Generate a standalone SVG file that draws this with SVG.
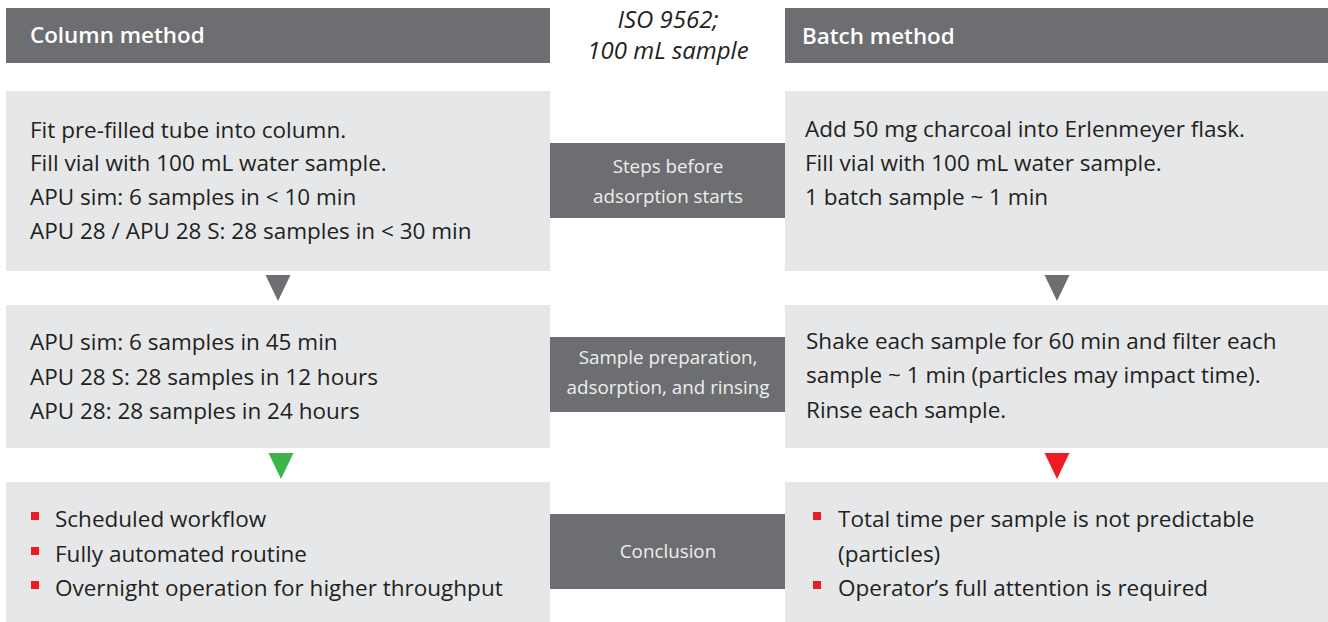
<svg xmlns="http://www.w3.org/2000/svg" width="1328" height="622" viewBox="0 0 1328 622">
<style>
.hdr{fill:#6d6e71}
.box{fill:#e6e7e9}
.lbl{fill:#6d6e71}
.ht{font-family:"Open Sans","Liberation Sans",sans-serif;font-size:22.4px;font-weight:600;fill:#ffffff}
.t{font-family:"Open Sans","Liberation Sans",sans-serif;font-size:22.5px;fill:#231f20}
.lt{font-family:"Open Sans","Liberation Sans",sans-serif;font-size:18.8px;fill:#eeeeee;text-anchor:middle}
.iso{font-family:"Open Sans","Liberation Sans",sans-serif;font-size:24px;font-style:italic;fill:#231f20;text-anchor:middle}
.bul{fill:#ed1c24}
</style>
<rect width="1328" height="622" fill="#ffffff"/>
<g id="header-column">
<rect class="hdr" x="6" y="8" width="544" height="55"/>
<text class="ht" x="30" y="43">Column method</text>
</g>
<g id="header-iso">
<text class="iso" x="668" y="28">ISO 9562;</text>
<text class="iso" x="668" y="59">100 mL sample</text>
</g>
<g id="header-batch">
<rect class="hdr" x="785" y="8" width="543" height="55"/>
<text class="ht" x="802" y="44">Batch method</text>
</g>
<g id="column-step1">
<rect class="box" x="6" y="91" width="544" height="180"/>
<text class="t" x="30" y="138">Fit pre-filled tube into column.</text>
<text class="t" x="30" y="171">Fill vial with 100 mL water sample.</text>
<text class="t" x="30" y="205">APU sim: 6 samples in &lt; 10 min</text>
<text class="t" x="30" y="239">APU 28 / APU 28 S: 28 samples in &lt; 30 min</text>
</g>
<g id="label-step1">
<rect class="lbl" x="550" y="143" width="235" height="75"/>
<text class="lt" x="668" y="173">Steps before</text>
<text class="lt" x="668" y="203">adsorption starts</text>
</g>
<g id="batch-step1">
<rect class="box" x="785" y="91" width="543" height="180"/>
<text class="t" x="805" y="137">Add 50 mg charcoal into Erlenmeyer flask.</text>
<text class="t" x="805" y="171">Fill vial with 100 mL water sample.</text>
<text class="t" x="805" y="205">1 batch sample ~ 1 min</text>
</g>
<g id="column-step2">
<rect class="box" x="6" y="305" width="544" height="143"/>
<text class="t" x="30" y="350">APU sim: 6 samples in 45 min</text>
<text class="t" x="30" y="385">APU 28 S: 28 samples in 12 hours</text>
<text class="t" x="30" y="419">APU 28: 28 samples in 24 hours</text>
</g>
<g id="label-step2">
<rect class="lbl" x="550" y="337" width="235" height="75"/>
<text class="lt" x="668" y="364">Sample preparation,</text>
<text class="lt" x="668" y="394">adsorption, and rinsing</text>
</g>
<g id="batch-step2">
<rect class="box" x="785" y="305" width="543" height="143"/>
<text class="t" x="806" y="349">Shake each sample for 60 min and filter each</text>
<text class="t" x="806" y="383">sample ~ 1 min (particles may impact time).</text>
<text class="t" x="806" y="418">Rinse each sample.</text>
</g>
<g id="column-conclusion">
<rect class="box" x="6" y="482" width="544" height="140"/>
<rect class="bul" x="31" y="512" width="8" height="8"/>
<text class="t" x="55" y="527">Scheduled workflow</text>
<rect class="bul" x="31" y="547" width="8" height="8"/>
<text class="t" x="55" y="562">Fully automated routine</text>
<rect class="bul" x="31" y="581" width="8" height="8"/>
<text class="t" x="55" y="596">Overnight operation for higher throughput</text>
</g>
<g id="label-conclusion">
<rect class="lbl" x="550" y="514" width="235" height="75"/>
<text class="lt" x="668" y="558">Conclusion</text>
</g>
<g id="batch-conclusion">
<rect class="box" x="785" y="482" width="543" height="140"/>
<rect class="bul" x="813" y="512" width="8" height="8"/>
<text class="t" x="838" y="527">Total time per sample is not predictable</text>
<text class="t" x="838" y="562">(particles)</text>
<rect class="bul" x="813" y="581" width="8" height="8"/>
<text class="t" x="838" y="596">Operator’s full attention is required</text>
</g>
<g id="connectors">
<path d="M265.5 275 L290.5 275 L278 301 Z" fill="#6d6e71"/>
<path d="M1044.5 275 L1069.5 275 L1057 301 Z" fill="#6d6e71"/>
<path d="M268.5 453 L293.5 453 L281 479 Z" fill="#3db54a"/>
<path d="M1044.5 453 L1069.5 453 L1057 479 Z" fill="#ed1c24"/>
</g>
</svg>
